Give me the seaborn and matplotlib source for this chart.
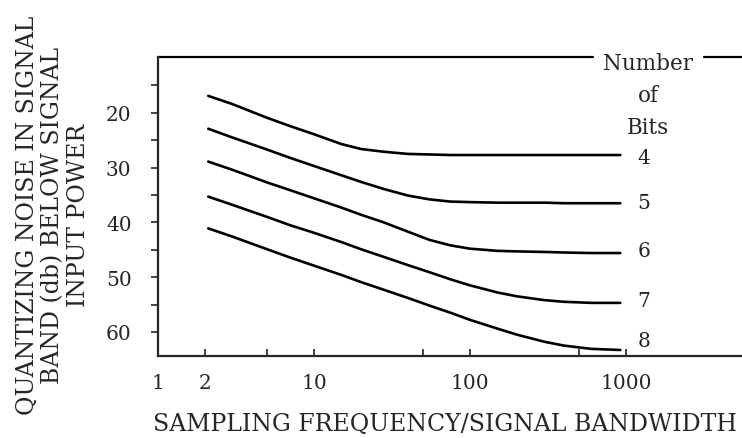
import numpy as np
import pandas as pd
import matplotlib
matplotlib.use("Agg")
import matplotlib.pyplot as plt
import seaborn as sns

# Valeurs
freq = [2.1, 3, 5, 7, 10, 15, 20, 28, 40, 55, 75, 100, 150, 200, 300, 400, 600, 920]
bits = ["4", "5", "6", "7", "8"]
noise_4 = [16.9, 18.4, 20.9, 22.4, 23.9, 25.7, 26.6, 27.1, 27.5, 27.6, 27.7, 27.7, 27.7, 27.7, 27.7, 27.7, 27.7, 27.7]
noise_5 = [22.9, 24.5, 26.7, 28.2, 29.7, 31.4, 32.6, 33.9, 35.1, 35.8, 36.2, 36.3, 36.4, 36.4, 36.4, 36.5, 36.5, 36.5]
noise_6 = [28.9, 30.4, 32.7, 34.1, 35.6, 37.3, 38.6, 40.0, 41.7, 43.2, 44.2, 44.8, 45.2, 45.3, 45.4, 45.5, 45.6, 45.6]
noise_7 = [35.3, 36.8, 39.0, 40.5, 41.9, 43.6, 44.9, 46.3, 47.8, 49.1, 50.4, 51.5, 52.8, 53.5, 54.2, 54.5, 54.7, 54.7]
noise_8 = [41.1, 42.6, 44.9, 46.4, 47.9, 49.6, 50.9, 52.3, 53.8, 55.2, 56.5, 57.8, 59.4, 60.5, 61.8, 62.5, 63.1, 63.3]
label_y = [28.2, 36.3, 45.1, 54.3, 61.6]

x_ticks = [1, 2, 5, 10, 50, 100, 500, 1000]
x_labels = ["1", "2", "", "10", "", "100", "", "1000"]
y_ticks = [15, 20, 25, 30, 35, 40, 45, 50, 55, 60]
y_labels = ["", "20", "", "30", "", "40", "", "50", "", "60"]

df = pd.DataFrame({
    "freq": freq * 5,
    "noise": noise_4 + noise_5 + noise_6 + noise_7 + noise_8,
    "bits": [b for b in bits for _ in freq],
})

sns.set_style("ticks")
plt.rcParams["font.family"] = ["DejaVu Serif"]

fig = plt.figure(figsize=(7.42, 4.39), dpi=100)
ax = fig.add_axes([158 / 742, 1 - 357 / 439, 584 / 742, 299 / 439])

sns.lineplot(data=df, x="freq", y="noise", units="bits", estimator=None,
             color="black", linewidth=1.9, ax=ax, legend=False)

ax.set_xscale("log")
ax.set_xlim(1, 5546)
ax.set_ylim(64.4, 9.8)

ax.set_xticks(x_ticks)
ax.set_xticklabels(x_labels)
ax.xaxis.set_minor_locator(matplotlib.ticker.NullLocator())
ax.set_yticks(y_ticks)
ax.set_yticklabels(y_labels)
ax.tick_params(axis="x", direction="in", length=5, width=1.2, labelsize=14.5, pad=12)
ax.tick_params(axis="y", direction="out", length=5, width=1.2, labelsize=14.5, pad=14)

for side in ["top", "right"]:
    ax.spines[side].set_visible(False)
for side in ["left", "bottom"]:
    ax.spines[side].set_linewidth(1.6)

# bord supérieur coupé par le titre de légende
ax.plot([0, 0.745], [1, 1], transform=ax.transAxes, color="black", lw=1.6, clip_on=False)
ax.plot([0.935, 1], [1, 1], transform=ax.transAxes, color="black", lw=1.6, clip_on=False)
ax.text(0.839, 1.018, "Number\nof\nBits", transform=ax.transAxes, ha="center", va="top",
        fontsize=15.5, linespacing=1.6)

for b, yl in zip(bits, label_y):
    ax.text(1304, yl, b, ha="center", va="center", fontsize=14.5)

ax.set_xlabel("SAMPLING FREQUENCY/SIGNAL BANDWIDTH", fontsize=17)
ax.xaxis.set_label_coords(0.491, -0.188)
ax.set_ylabel("QUANTIZING NOISE IN SIGNAL\nBAND (db) BELOW SIGNAL\nINPUT POWER",
              fontsize=17, linespacing=1.15, multialignment="center")
ax.yaxis.set_label_coords(-0.116, 0.475)

fig.savefig("out.png", dpi=100)
